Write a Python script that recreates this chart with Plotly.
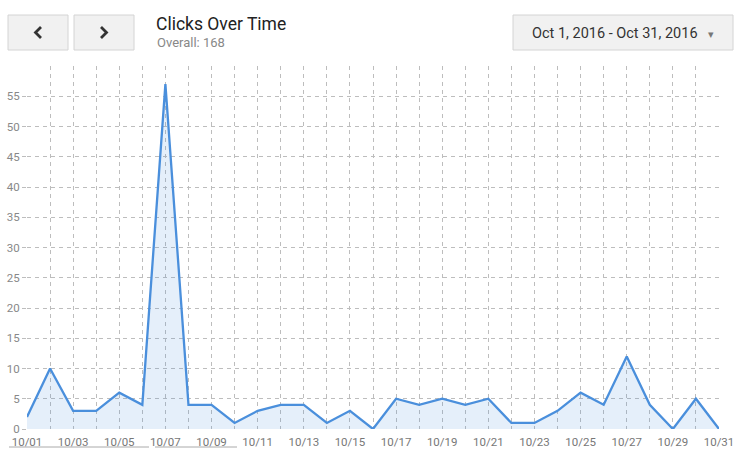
import plotly.graph_objects as go

dates = ["2016-10-%02d" % d for d in range(1, 32)]
clicks = [2, 10, 3, 3, 6, 4, 57, 4, 4, 1, 3, 4, 4, 1, 3, 0,
          5, 4, 5, 4, 5, 1, 1, 3, 6, 4, 12, 4, 0, 5, 0]
y_ticks = list(range(0, 60, 5))
title = "Clicks Over Time"
subtitle = "Overall: %d" % sum(clicks)
date_range_label = "Oct 1, 2016 - Oct 31, 2016"

W, H = 747, 460
L, R, T, B = 27, 28, 66, 31
pw, ph = W - L - R, H - T - B

def px(x):
    return (x - L) / pw

def py(y):
    return (H - B - y) / ph

DAY = 86400000

fig = go.Figure()
fig.add_trace(go.Scatter(
    x=dates, y=clicks, mode="lines",
    line=dict(color="#4a8fdc", width=2.3),
    fill="tozeroy", fillcolor="rgba(74,143,220,0.14)",
    hoverinfo="x+y",
))

grid = "#bdbdbd"
dash = "4px,4px"
fig.update_layout(
    width=W, height=H,
    margin=dict(l=L, r=R, t=T, b=B),
    paper_bgcolor="white", plot_bgcolor="white",
    showlegend=False,
    font=dict(family="Roboto, Arial, sans-serif", color="#777"),
    xaxis=dict(
        type="date", range=[dates[0], dates[-1]], automargin=False,
        tick0=dates[0], dtick=2 * DAY, tickformat="%m/%d",
        showgrid=True, gridcolor=grid, griddash=dash, gridwidth=1,
        minor=dict(dtick=DAY, showgrid=True, gridcolor=grid, griddash=dash, gridwidth=1),
        showline=False, zeroline=False, ticks="",
        ticklabelstandoff=4,
        tickfont=dict(size=11.5, color="#777"),
        fixedrange=True,
    ),
    yaxis=dict(
        range=[0, 60], tickvals=y_ticks, automargin=False,
        showgrid=True, gridcolor=grid, griddash=dash, gridwidth=1,
        zeroline=False, showline=False,
        ticks="outside", ticklen=4, tickcolor=grid,
        tickfont=dict(size=11.5, color="#888"),
        fixedrange=True,
    ),
)

def path(points):
    return "M " + " L ".join("%f,%f" % (px(x), py(y)) for x, y in points)

shapes = []
btn_fill, btn_line = "#f1f1f1", "#d4d4d4"
for (x0, x1) in [(8, 68), (74, 134), (513, 733)]:
    shapes.append(dict(type="rect", xref="paper", yref="paper",
                       x0=px(x0), x1=px(x1), y0=py(50), y1=py(15),
                       fillcolor=btn_fill, line=dict(color=btn_line, width=1), layer="above"))
for pts in [[(41, 27), (35.5, 32.5), (41, 38)], [(101, 27), (106.5, 32.5), (101, 38)]]:
    shapes.append(dict(type="path", xref="paper", yref="paper", path=path(pts),
                       line=dict(color="#333", width=2.8), layer="above"))
for (x0, x1) in [(9, 149), (155, 237)]:
    shapes.append(dict(type="line", xref="paper", yref="paper",
                       x0=px(x0), x1=px(x1), y0=py(447), y1=py(447),
                       line=dict(color="#aaa", width=1)))
fig.update_layout(shapes=shapes)

ann = [
    dict(text=title, x=px(154), y=py(24), xanchor="left", font=dict(size=17.5, color="#222")),
    dict(text=subtitle, x=px(155), y=py(42.5), xanchor="left", font=dict(size=13, color="#888")),
    dict(text=date_range_label, x=px(615), y=py(33), font=dict(size=14.5, color="#333")),
    dict(text="▾", x=px(711), y=py(35), font=dict(size=11, color="#777")),
]
for a in ann:
    a.setdefault("xanchor", "center")
    a.update(xref="paper", yref="paper", showarrow=False, yanchor="middle")
fig.update_layout(annotations=ann)

fig.write_html("out.html", config={"displayModeBar": False},
               post_script="document.body.style.margin='0';document.body.style.overflow='hidden';")
